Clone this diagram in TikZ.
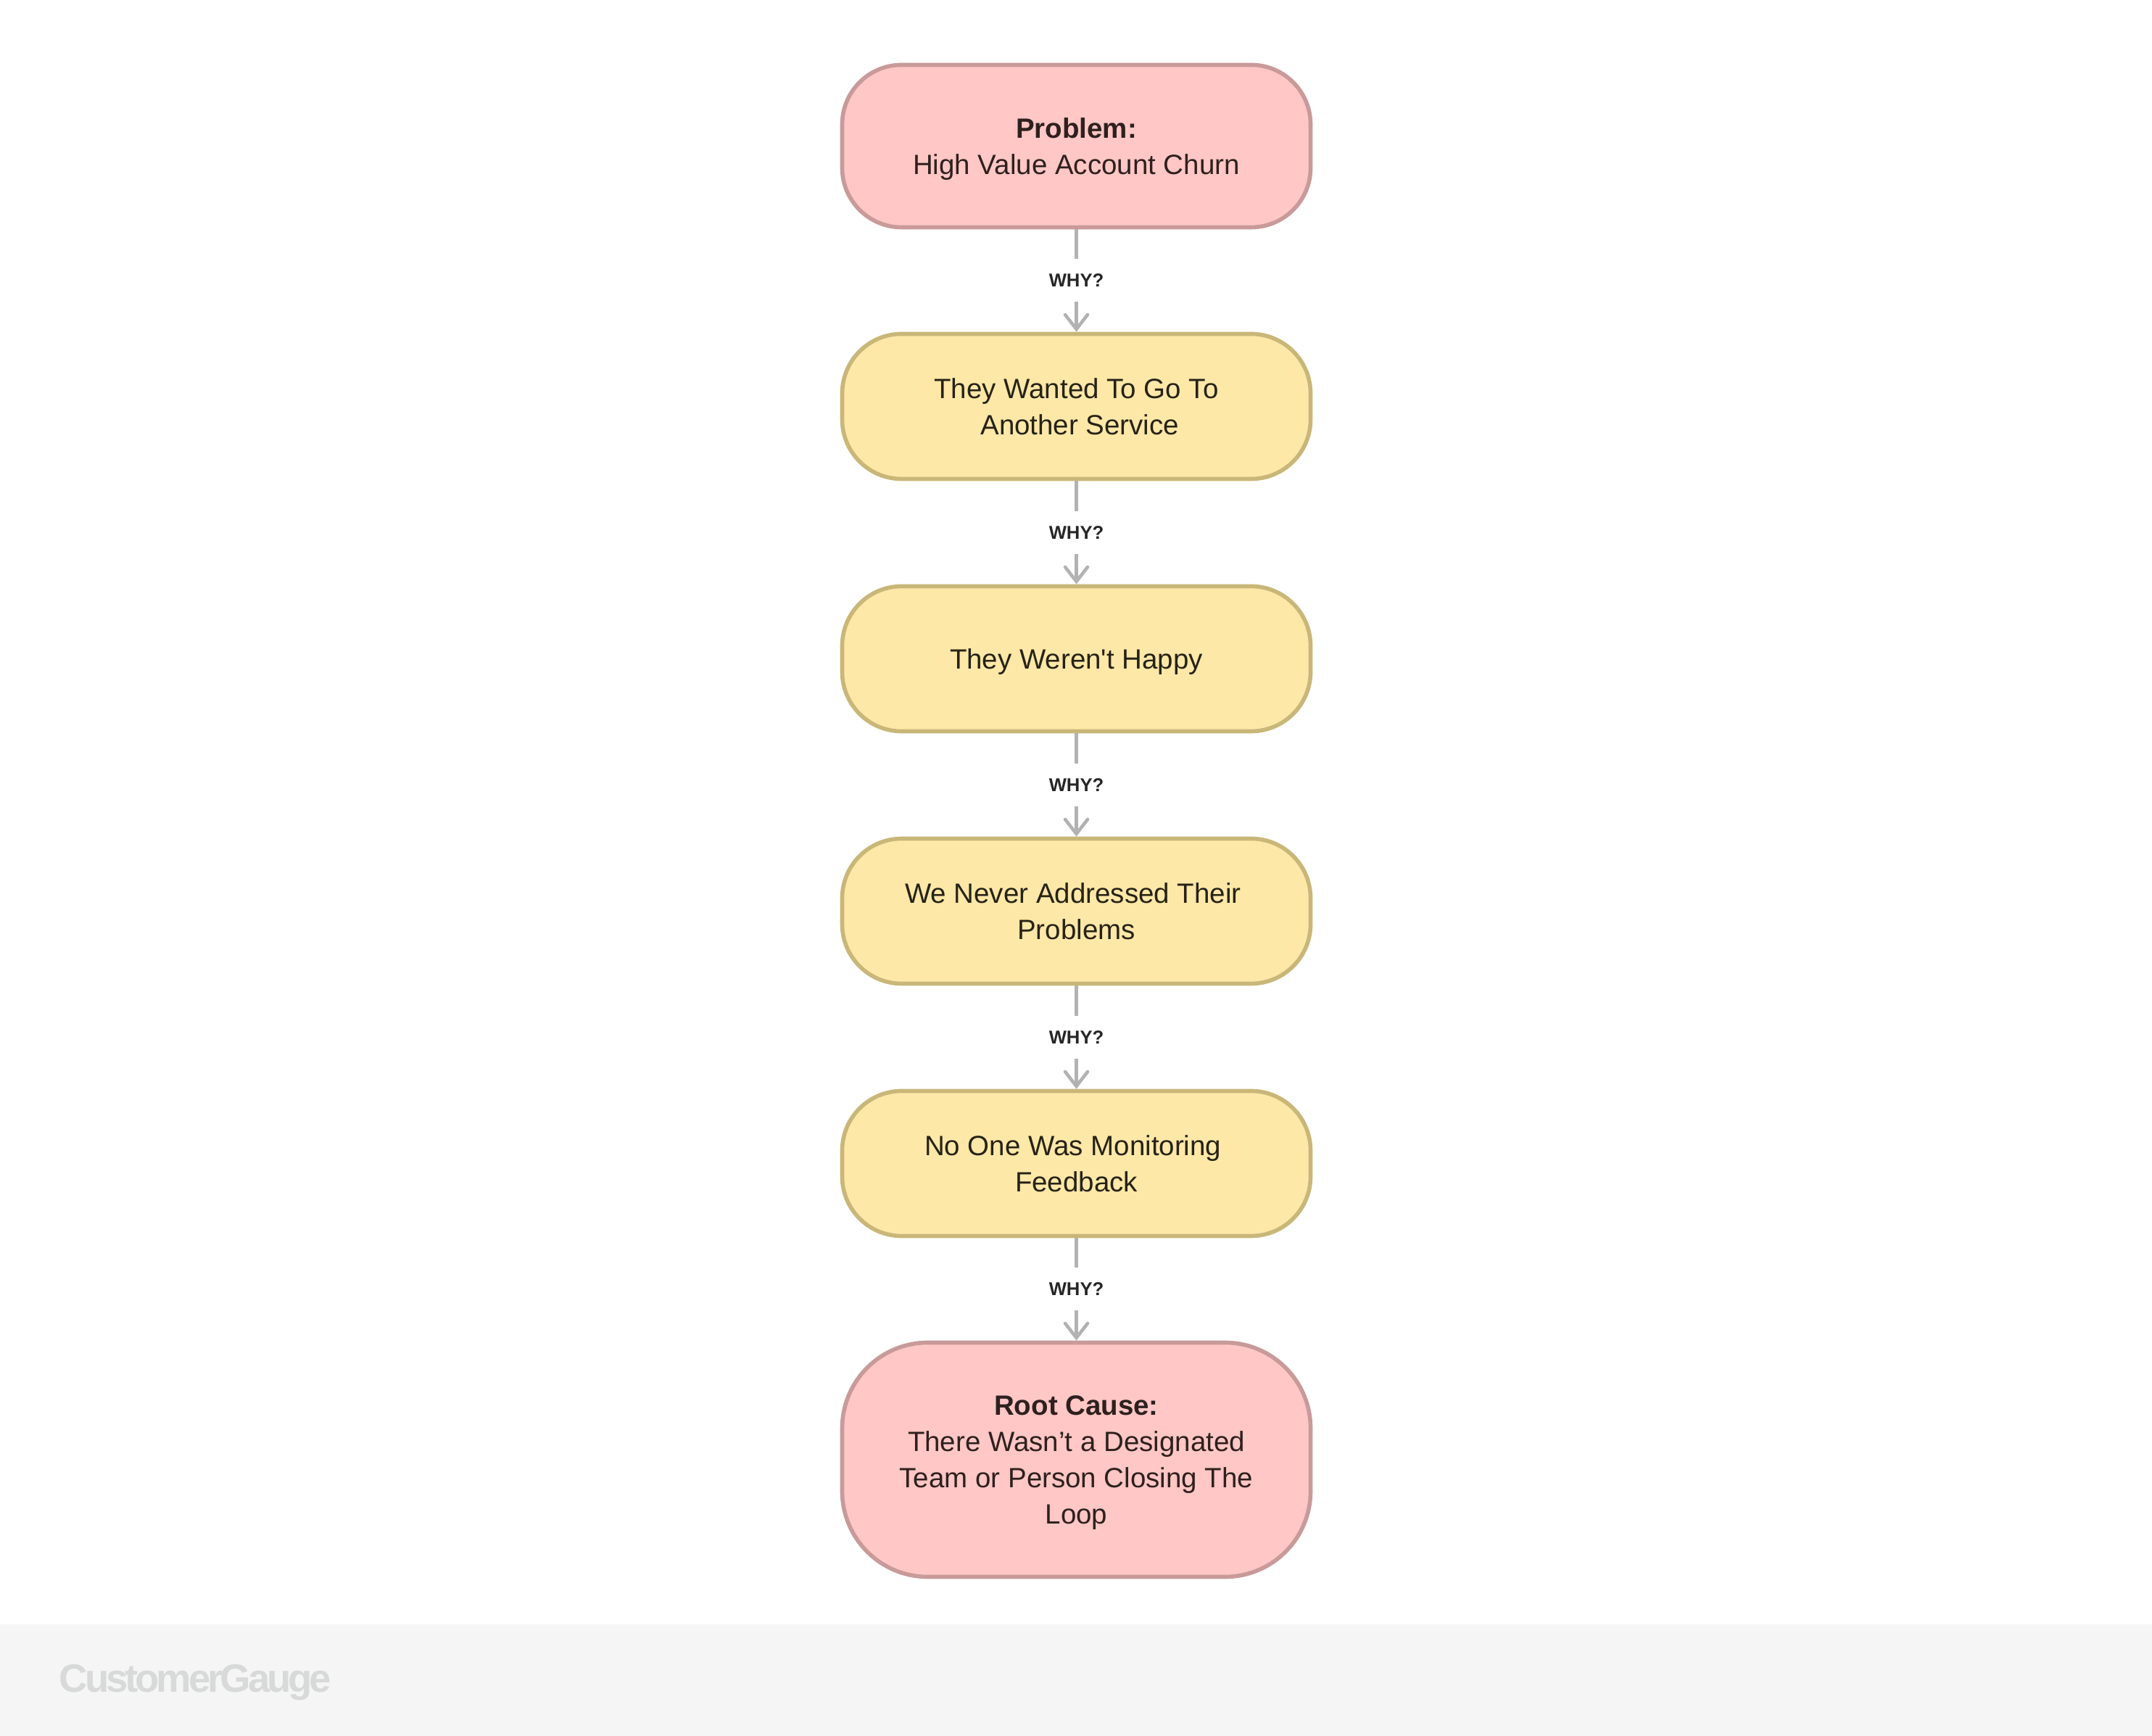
\documentclass[tikz,border=0pt]{standalone}
\usepackage{fontspec}
\setmainfont{Liberation Sans}[Ligatures=TeXOff]
\usetikzlibrary{arrows.meta}
\definecolor{problemred}{RGB}{255,199,197}
\definecolor{problemedge}{RGB}{200,154,153}
\definecolor{whyyellow}{RGB}{254,232,167}
\definecolor{whyedge}{RGB}{201,183,121}
\definecolor{redtext}{RGB}{46,32,30}
\definecolor{yellowtext}{RGB}{38,34,22}
\definecolor{whygray}{RGB}{178,178,178}
\definecolor{footergray}{RGB}{245,245,245}
\definecolor{logogray}{RGB}{216,217,217}

\begin{document}
\begin{tikzpicture}[
  redbox/.style={draw=problemedge,line width=1.6pt,fill=problemred,text=redtext,rounded corners=0.82cm,align=center,font=\fontsize{10.95}{14.2}\selectfont,minimum width=6.46cm,inner sep=0pt,text depth=-1.6pt},
  yellowbox/.style={draw=whyedge,line width=1.6pt,fill=whyyellow,text=yellowtext,rounded corners=0.82cm,align=center,font=\fontsize{10.95}{14.2}\selectfont,minimum width=6.46cm,minimum height=2cm,inner sep=0pt,text depth=0pt},
  whylabel/.style={fill=white,font=\fontsize{7.3}{8}\selectfont\bfseries,text=black!85,minimum height=0.59cm,minimum width=1cm,inner sep=0pt},
  ar/.style={-{Straight Barb[length=2mm,width=3.1mm,line cap=round]},line width=1.3pt,whygray}
]
\useasboundingbox (0,0) rectangle (29.68,23.93);

% FOOTER: strip and logo
\node[fill=footergray,minimum width=30cm,minimum height=1.72cm,inner sep=0pt,anchor=south west] (footer) at (-0.1,-0.2) {};
\node[font=\fontsize{15.5}{16}\selectfont\addfontfeatures{LetterSpace=-7.4}\bfseries,text=logogray,anchor=base west,inner sep=0pt] (logo) at (0.81,0.6) {CustomerGauge};

% TOP: the problem
\node[redbox,minimum height=2.24cm] (problem) at (14.845,21.915) {\textbf{Problem:}\\High Value Account Churn};

% MIDDLE: the chain of answers
\node[yellowbox] (wanted) at (14.845,18.325) {They Wanted To Go To\\\hspace*{0.095cm}Another Service};
\node[yellowbox] (unhappy) at (14.845,14.845) {They Weren't Happy};
\node[yellowbox] (ignored) at (14.845,11.365) {We Never Addressed Their\hspace*{0.095cm}\\Problems};
\node[yellowbox] (monitor) at (14.845,7.885) {No One Was Monitoring\hspace*{0.095cm}\\Feedback};

% BOTTOM: root cause
\node[redbox,minimum height=3.23cm,rounded corners=1.18cm] (root) at (14.845,3.80) {\textbf{Root Cause:}\\There Wasn’t a Designated\hspace*{0.08cm}\\Team or Person Closing The\hspace*{0.08cm}\\Loop};

\draw[ar] (problem) -- node[whylabel] (why1) {WHY?} (wanted);
\draw[ar] (wanted) -- node[whylabel] (why2) {WHY?} (unhappy);
\draw[ar] (unhappy) -- node[whylabel] (why3) {WHY?} (ignored);
\draw[ar] (ignored) -- node[whylabel] (why4) {WHY?} (monitor);
\draw[ar] (monitor) -- node[whylabel] (why5) {WHY?} (root);
\end{tikzpicture}
\end{document}
